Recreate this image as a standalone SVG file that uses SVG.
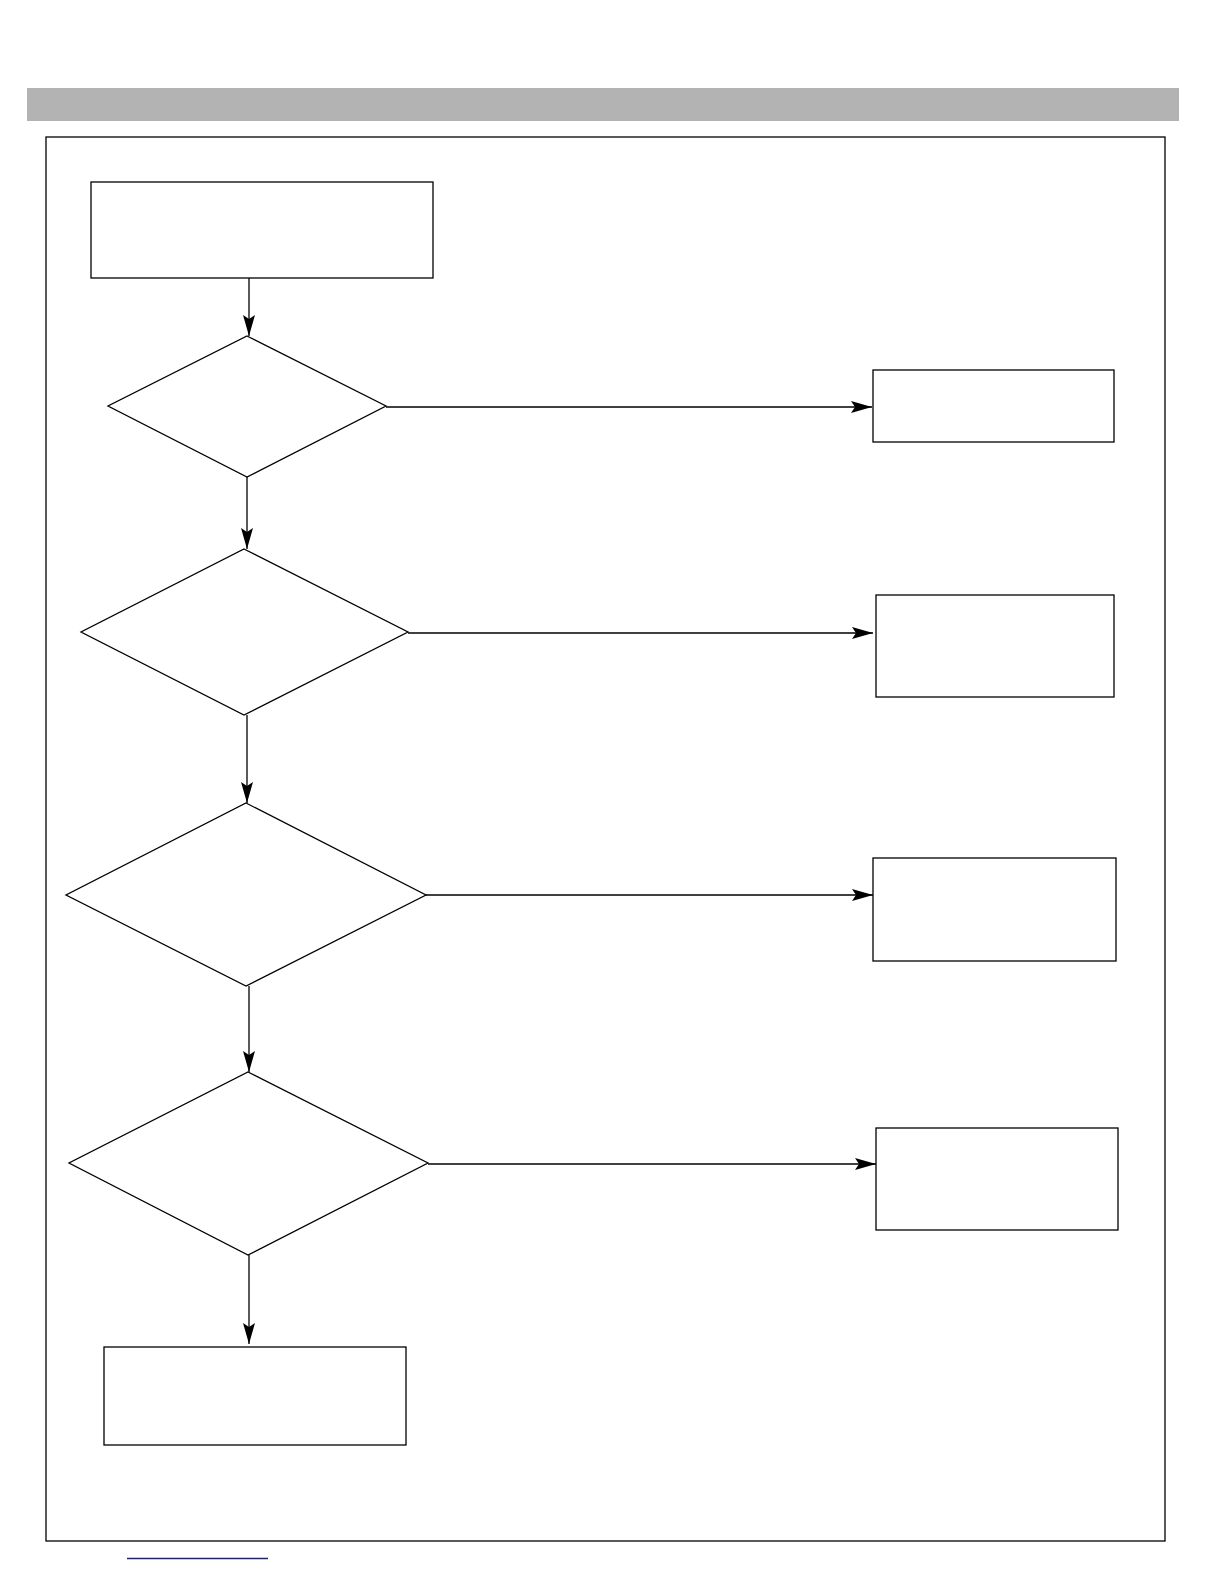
<svg xmlns="http://www.w3.org/2000/svg" width="1224" height="1584" viewBox="0 0 1224 1584">
<style>
.n{fill:#fff;stroke:#000;stroke-width:1.3}
.c{fill:none;stroke:#000;stroke-width:1.3}
</style>
<defs>
<marker id="ah" markerUnits="userSpaceOnUse" markerWidth="22" markerHeight="12" refX="21" refY="6" orient="auto">
<path d="M0,0 L21,6 L0,12 L4,6 Z" fill="#000"/>
</marker>
</defs>
<rect width="1224" height="1584" fill="#fff"/>
<rect x="27" y="88" width="1152" height="33" fill="#b3b3b3"/>
<rect x="46" y="137" width="1119" height="1404" fill="none" stroke="#000" stroke-width="1.3"/>
<line x1="127" y1="1558.5" x2="268" y2="1558.5" stroke="#1a237e" stroke-width="1.5"/>
<g id="connectors">
<line class="c" x1="249" y1="278" x2="249" y2="336" marker-end="url(#ah)"/>
<line class="c" x1="386" y1="407" x2="872" y2="407" marker-end="url(#ah)"/>
<line class="c" x1="247" y1="477" x2="247" y2="549" marker-end="url(#ah)"/>
<line class="c" x1="408" y1="633" x2="873" y2="633" marker-end="url(#ah)"/>
<line class="c" x1="247" y1="715" x2="247" y2="803" marker-end="url(#ah)"/>
<line class="c" x1="426" y1="895" x2="873" y2="895" marker-end="url(#ah)"/>
<line class="c" x1="249" y1="986" x2="249" y2="1072" marker-end="url(#ah)"/>
<line class="c" x1="428" y1="1164" x2="876" y2="1164" marker-end="url(#ah)"/>
<line class="c" x1="249" y1="1255" x2="249" y2="1344" marker-end="url(#ah)"/>
</g>
<g id="start"><rect class="n" x="91" y="182" width="342" height="96"/></g>
<g id="d1"><polygon class="n" points="247,336 386,406 247,477 108,406"/></g>
<g id="r1"><rect class="n" x="873" y="370" width="241" height="72"/></g>
<g id="d2"><polygon class="n" points="244,549 408,632 244,715 81,632"/></g>
<g id="r2"><rect class="n" x="876" y="595" width="238" height="102"/></g>
<g id="d3"><polygon class="n" points="246,803 426,895 246,986 66,895"/></g>
<g id="r3"><rect class="n" x="873" y="858" width="243" height="103"/></g>
<g id="d4"><polygon class="n" points="248,1072 428,1163 248,1255 69,1163"/></g>
<g id="r4"><rect class="n" x="876" y="1128" width="242" height="102"/></g>
<g id="end"><rect class="n" x="104" y="1347" width="302" height="98"/></g>
</svg>
